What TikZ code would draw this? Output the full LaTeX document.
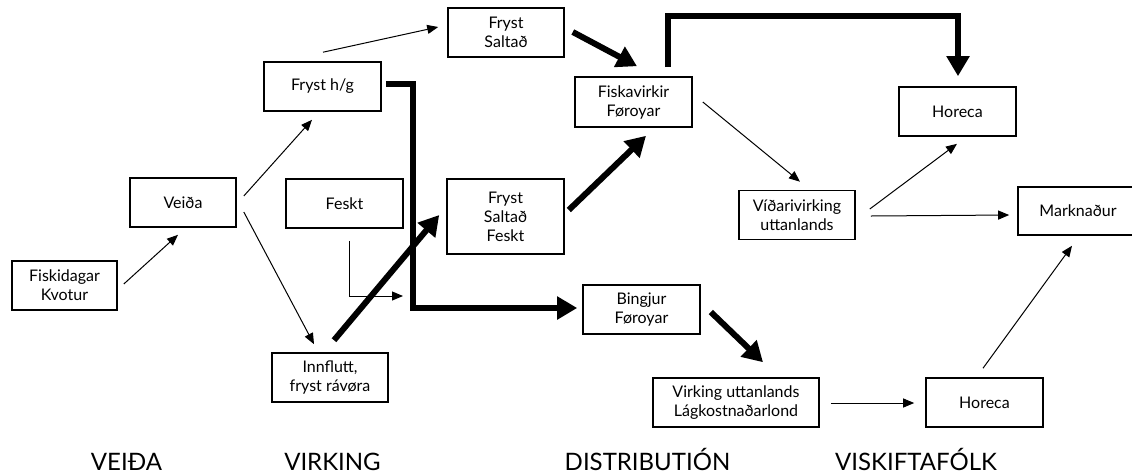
\documentclass[tikz,border=0pt]{standalone}
\usepackage{fontspec}
\setmainfont{Lato}
\usetikzlibrary{arrows.meta}
\begin{document}
\begin{tikzpicture}[x=1pt,y=-1pt,
  box/.style={draw,line width=1.6pt,minimum height=49pt,inner sep=0pt,align=center,font=\fontsize{16}{19}\selectfont},
  thinar/.style={line width=1pt,-{Triangle[length=11pt,width=9pt]}},
  thickar/.style={line width=6pt,-{Triangle[length=20pt,width=22pt]}},
  head/.style={anchor=base,font=\fontsize{24}{28}\selectfont}]
\useasboundingbox (0,0) rectangle (1132,475);
% boxes
\node[box,minimum width=105pt] (fisk) at (64.5,285.5) {Fiskidagar\\Kvotur};
\node[box,minimum width=106pt] (veida) at (183,202.5) {Veiða};
\node[box,minimum width=117pt] (fhg) at (322.5,86.5) {Fryst h/g};
\node[box,minimum width=117pt] (feskt) at (344.5,203.5) {Feskt};
\node[box,minimum width=116pt] (innf) at (330,377.5) {Innflutt,\\fryst rávøra};
\node[box,minimum width=116pt] (fs) at (506,32.5) {Fryst\\Saltað};
\node[box,minimum width=117pt,minimum height=75pt] (fsf) at (505.5,216.5) {Fryst\\Saltað\\Feskt};
\node[box,minimum width=117pt,minimum height=50pt] (fiska) at (633.5,102) {Fiskavirkir\\Føroyar};
\node[box,minimum width=117pt] (bing) at (641.5,309.5) {Bingjur\\Føroyar};
\node[box,minimum width=116pt] (vid) at (797,215) {Víðarivirking\\uttanlands};
\node[box,minimum width=117pt] (hor1) at (957.5,111.5) {Horeca};
\node[box,minimum width=120pt,minimum height=48pt] (mark) at (1078,211) {Marknaður};
\node[box,minimum width=166pt] (vu) at (736,402.5) {Virking uttanlands\\Lágkostnaðarlond};
\node[box,minimum width=117pt] (hor2) at (984.5,402.5) {Horeca};
% headings
\node[head] (h1) at (126.5,470) {VEIÐA};
\node[head] (h2) at (332.5,470) {VIRKING};
\node[head] (h3) at (647.5,470) {DISTRIBUTIÓN};
\node[head] (h4) at (916,470) {VISKIFTAFÓLK};
% thin arrows
\draw[thinar] ([shift={(6,-1.5)}]fisk.east) -- ([shift={(-5,7)}]veida.south);
\draw[thinar] ([shift={(7,-6.5)}]veida.east) -- ([shift={(-10.5,8)}]fhg.south);
\draw[thinar] ([shift={(7,9.5)}]veida.east) -- ([shift={(-16,-8)}]innf.north);
\draw[thinar] ([shift={(0.5,-9)}]fhg.north) -- ([shift={(-9,-5.5)}]fs.west);
\coordinate (fesktend) at (403,296);
\draw[thinar] ([shift={(4.5,12)}]feskt.south) |- (fesktend);
\draw[thinar] ([shift={(10,0)}]fiska.east) -- ([shift={(3,-8)}]vid.north);
\draw[thinar] ([shift={(14,-6)}]vid.east) -- ([shift={(-0.5,7)}]hor1.south);
\draw[thinar] ([shift={(15,1)}]vid.east) -- ([shift={(-8,4)}]mark.west);
\draw[thinar] ([shift={(11,0.5)}]vu.east) -- ([shift={(-11,0.5)}]hor2.west);
\draw[thinar] ([shift={(-1.5,-9)}]hor2.north) -- ([shift={(-6,10)}]mark.south);
% thick arrows
\draw[thickar] ([shift={(4,-2.5)}]fhg.east) -- ++(27,0) |- ([shift={(-5,-1.5)}]bing.west);
\draw[thickar] ([shift={(4,-12)}]innf.north) -- ([shift={(-7,-1.5)}]fsf.west);
\draw[thickar] ([shift={(8,-0.5)}]fs.east) -- ([shift={(3.5,-10)}]fiska.north);
\draw[thickar] ([shift={(4,-6.5)}]fsf.east) -- ([shift={(12.5,8)}]fiska.south);
\draw[thickar] ([shift={(34.5,-9)}]fiska.north) -- ++(0,-51) -| ([shift={(0.5,-10)}]hor1.north);
\draw[thickar] ([shift={(10,2.5)}]bing.east) -- ([shift={(27,-15)}]vu.north);
\end{tikzpicture}
\end{document}
